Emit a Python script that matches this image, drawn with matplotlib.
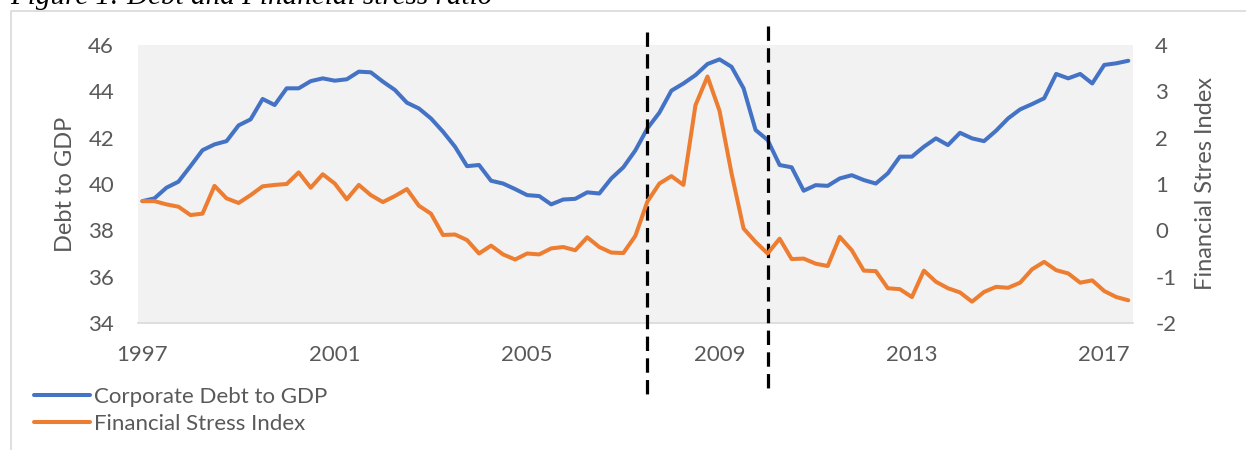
import matplotlib
matplotlib.use("Agg")
import matplotlib.pyplot as plt
import matplotlib.transforms as mtransforms
from matplotlib.patches import Rectangle

# quarterly data, 1997Q1 .. 2017Q3
debt_gdp = [39.26, 39.38, 39.84, 40.10, 40.77, 41.46, 41.71, 41.85, 42.53, 42.79,
            43.67, 43.41, 44.13, 44.13, 44.44, 44.56, 44.46, 44.52, 44.85, 44.82,
            44.42, 44.06, 43.51, 43.26, 42.83, 42.26, 41.61, 40.77, 40.82, 40.14,
            40.02, 39.78, 39.52, 39.48, 39.12, 39.33, 39.36, 39.64, 39.59, 40.24,
            40.72, 41.45, 42.40, 43.08, 44.03, 44.34, 44.70, 45.18, 45.38, 45.06,
            44.13, 42.33, 41.90, 40.82, 40.72, 39.71, 39.95, 39.92, 40.24, 40.38,
            40.17, 40.02, 40.46, 41.18, 41.18, 41.61, 41.97, 41.68, 42.21, 41.97,
            41.85, 42.30, 42.83, 43.22, 43.45, 43.70, 44.75, 44.56, 44.75, 44.34,
            45.14, 45.21, 45.32]
stress_idx = [0.63, 0.63, 0.56, 0.51, 0.33, 0.36, 0.96, 0.69, 0.59, 0.76,
              0.95, 0.98, 1.00, 1.25, 0.92, 1.21, 1.01, 0.67, 0.98, 0.76,
              0.61, 0.74, 0.89, 0.53, 0.36, -0.10, -0.09, -0.21, -0.50, -0.33,
              -0.52, -0.63, -0.50, -0.52, -0.39, -0.36, -0.43, -0.15, -0.36, -0.48,
              -0.49, -0.12, 0.62, 1.01, 1.17, 0.98, 2.70, 3.32, 2.58, 1.23,
              0.04, -0.25, -0.50, -0.18, -0.62, -0.61, -0.72, -0.77, -0.14, -0.43,
              -0.87, -0.88, -1.25, -1.27, -1.44, -0.87, -1.11, -1.25, -1.34, -1.54,
              -1.33, -1.22, -1.24, -1.13, -0.84, -0.68, -0.86, -0.93, -1.13, -1.08,
              -1.31, -1.44, -1.51]
year_labels = ["1997", "2001", "2005", "2009", "2013", "2017"]
year_pos = [0, 16, 32, 48, 64, 80]
events = [42, 52]  # dashed markers (2007Q3, 2010Q1)

x = list(range(len(debt_gdp)))

plt.rcParams['font.family'] = ['Lato', 'DejaVu Sans']
plt.rcParams['axes.unicode_minus'] = False
grey = '#595959'
fs = 16

fig = plt.figure(figsize=(12.46, 4.5), dpi=100)
ax = fig.add_axes([137.7 / 1246, 1 - 323 / 450, 995.3 / 1246, 278 / 450])
ax.set_facecolor('#F2F2F2')
ax2 = ax.twinx()

l1, = ax.plot(x, debt_gdp, color='#4472C4', lw=2.9, solid_joinstyle='round', solid_capstyle='round')
l2, = ax2.plot(x, stress_idx, color='#ED7D31', lw=2.9, solid_joinstyle='round', solid_capstyle='round')

ax.set_xlim(-0.39, 82.39)
ax.set_ylim(34, 46)
ax.set_yticks(range(34, 47, 2))
ax2.set_ylim(-2, 4)
ax2.set_yticks(range(-2, 5))
ax.set_xticks(year_pos)
ax.set_xticklabels(year_labels)

for a in (ax, ax2):
    for s in a.spines.values():
        s.set_visible(False)
ax.spines['bottom'].set_visible(True)
ax.spines['bottom'].set_color('#D9D9D9')
ax.spines['bottom'].set_linewidth(1.2)

ax.tick_params(axis='both', length=0, labelsize=fs, labelcolor=grey)
ax.tick_params(axis='y', pad=17)
ax.tick_params(axis='x', pad=15.5)
ax2.tick_params(axis='y', length=0, labelsize=fs, labelcolor=grey, pad=16)

fig.text(65 / 1246, 1 - 184 / 450, 'Debt to GDP', rotation=90, ha='center', va='center',
         fontsize=fs + 1, color=grey)
fig.text(1205 / 1246, 1 - 184 / 450, 'Financial Stres Index', rotation=90, ha='center',
         va='center', fontsize=fs + 1, color=grey)

# dashed event lines, extending beyond the plot area
trans = mtransforms.blended_transform_factory(ax.transData, fig.transFigure)
ax.plot([events[0], events[0]], [1 - 32 / 450, 1 - 397 / 450], transform=trans, color='black',
        lw=2.3, ls=(0, (4.5, 2.3)), clip_on=False, zorder=5)
ax.plot([events[1], events[1]], [1 - 26 / 450, 1 - 390 / 450], transform=trans, color='black',
        lw=2.3, ls=(0, (4.5, 2.3)), clip_on=False, zorder=5)
ax2.set_zorder(ax.get_zorder() + 1)
ax2.patch.set_visible(False)

fig.legend([l1, l2], ['Corporate Debt to GDP', 'Financial Stress Index'], loc='upper left',
           bbox_to_anchor=(34 / 1246, 1 - 387 / 450), frameon=False, fontsize=fs,
           handlelength=2.5, handletextpad=0.18, borderpad=0, borderaxespad=0,
           labelspacing=0.3, labelcolor=grey)

# page frame and clipped caption
fig.patches.append(Rectangle((11 / 1246, -0.1), 1.2, 1 - 10.5 / 450 + 0.1, transform=fig.transFigure,
                             fill=False, edgecolor='#D9D9D9', lw=1.2))
fig.text(10 / 1246, 1 - 4.5 / 450, 'Figure 1: Debt and Financial stress ratio', ha='left',
         va='baseline', fontsize=21, style='italic', family='Liberation Serif', color='black')

fig.savefig('out.png', dpi=100)
